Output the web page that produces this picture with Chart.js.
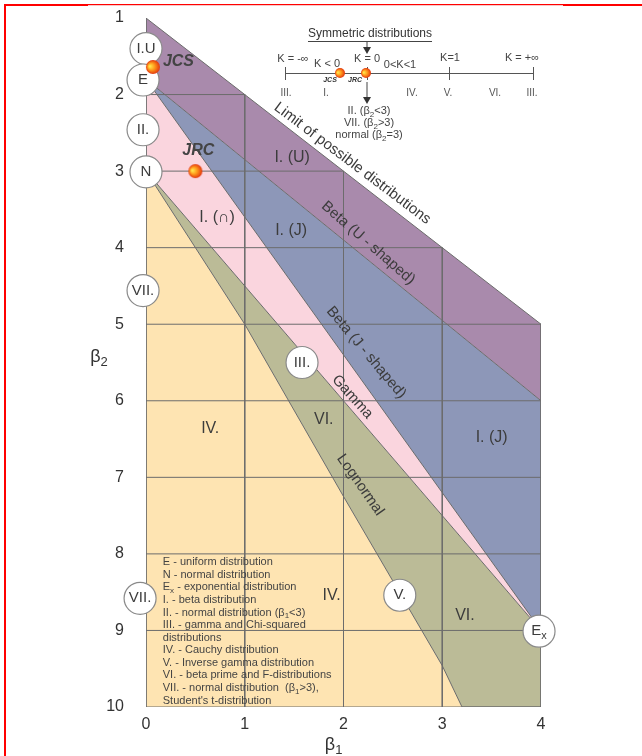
<!DOCTYPE html>
<html>
<head>
<meta charset="utf-8">
<script src="https://cdn.jsdelivr.net/npm/chart.js@4.4.1/dist/chart.umd.min.js"></script>
<style>
body{margin:0;background:#fff;}
#wrap{position:relative;width:642px;height:756px;overflow:hidden;}
#frame{position:absolute;left:4px;top:4px;right:-4px;bottom:-4px;border-left:2px solid #f00;border-top:2px solid #f00;pointer-events:none;}
#thin{position:absolute;left:88px;top:5px;width:475px;height:1px;background:#f8c8c8;}
</style>
</head>
<body>
<div id="wrap"><canvas id="pearson" width="642" height="756"></canvas><div id="frame"></div><div id="thin"></div></div>
<script>
Chart.defaults.font.family = '"Liberation Sans", Arial, sans-serif';
Chart.defaults.color = '#333';

var b1Ticks = [0, 1, 2, 3, 4];
var b2Ticks = [1, 2, 3, 4, 5, 6, 7, 8, 9, 10];

// region borders (beta1 -> beta2)
var limitB1 = [0, 4],  limitB2 = [1, 5];
var uBetaB1 = [0, 4],  uBetaB2 = [1.8, 6];
var jBetaB1 = [0, 4],  jBetaB2 = [1.8, 9];
var gammaB1 = [0, 4],  gammaB2 = [3, 9];
var type5B1 = [0, 0.5, 1, 2, 3, 3.2, 4];
var type5B2 = [3, 4, 5, 7.25, 9.46, 10, 10];
var floorB1 = [0, 4],  floorB2 = [10, 10];

// circled distribution types
var markNames = ['I.U', 'E', 'II.', 'N', 'VII.', 'VII.', 'III.', 'V.', 'E_x'];
var markB1 = [0, -0.03, -0.03, 0, -0.03, -0.06, 1.58, 2.57, 3.98];
var markB2 = [1.4, 1.81, 2.46, 3.01, 4.56, 8.58, 5.5, 8.54, 9.01];

// samples
var sampleNames = ['JCS', 'JRC'];
var sampleB1 = [0.07, 0.5];
var sampleB2 = [1.64, 3.0];

var legendLines = [
	'E - uniform distribution',
	'N - normal distribution',
	'E_x - exponential distribution',
	'I. - beta distribution',
	'II. - normal distribution (\u03b2_1<3)',
	'III. - gamma and Chi-squared',
	'distributions',
	'IV. - Cauchy distribution',
	'V. - Inverse gamma distribution',
	'VI. - beta prime and F-distributions',
	'VII. - normal distribution  (\u03b2_1>3),',
	"Student's t-distribution"
];

function pts(xs, ys){
	return xs.map(function(x, i){ return {x: x, y: ys[i]}; });
}

// where the limit line reaches a given beta1 / beta2
function limitAtB1(b1){
	return limitB2[0] + (b1 - limitB1[0]) * (limitB2[1] - limitB2[0]) / (limitB1[1] - limitB1[0]);
}
function limitAtB2(b2){
	return limitB1[0] + (b2 - limitB2[0]) * (limitB1[1] - limitB1[0]) / (limitB2[1] - limitB2[0]);
}

// grid only inside the possible region
var gridPts = [];
b2Ticks.forEach(function(t){
	if(t == b2Ticks[0] || t == b2Ticks[b2Ticks.length-1]) return;
	var end = Math.min(limitAtB2(t), b1Ticks[b1Ticks.length-1]);
	gridPts.push({x: 0, y: t}, {x: end, y: t}, {x: end, y: null});
});
b1Ticks.forEach(function(t){
	gridPts.push({x: t, y: limitAtB1(t)}, {x: t, y: 10}, {x: t, y: null});
});

function makeBall(r){
	var c = document.createElement('canvas');
	c.width = c.height = r*2 + 2;
	var g = c.getContext('2d');
	var grad = g.createRadialGradient(r*0.55+1, r*0.9+1, r*0.1, r+1, r+1, r);
	grad.addColorStop(0, '#ffe24a');
	grad.addColorStop(0.45, '#ff9a1c');
	grad.addColorStop(1, '#e2360e');
	g.fillStyle = grad;
	g.beginPath(); g.arc(r+1, r+1, r, 0, Math.PI*2); g.fill();
	return c;
}
var ball = makeBall(7), smallBall = makeBall(5);

var FONT = '"Liberation Sans", Arial, sans-serif';
function richText(ctx, s, x, y, size, align, style){
	style = style || '';
	var runs = [], i;
	for(i = 0; i < s.length; i++){
		if(s[i] == '_' && i+1 < s.length){ runs.push({t: s[i+1], sub: true}); i++; }
		else if(runs.length && !runs[runs.length-1].sub) runs[runs.length-1].t += s[i];
		else runs.push({t: s[i], sub: false});
	}
	var fontFor = function(r){ return style + ' ' + (r.sub ? Math.round(size*0.72) : size) + 'px ' + FONT; };
	var w = 0;
	runs.forEach(function(r){ ctx.font = fontFor(r); r.w = ctx.measureText(r.t).width; w += r.w; });
	var cx = align == 'center' ? x - w/2 : (align == 'right' ? x - w : x);
	ctx.textAlign = 'left';
	ctx.textBaseline = 'middle';
	runs.forEach(function(r){
		ctx.font = fontFor(r);
		ctx.fillText(r.t, cx, r.sub ? y + size*0.3 : y);
		cx += r.w;
	});
	return w;
}

var notes = [
	{t: 'I. (U)', x: 1.48, y: 2.82},
	{t: 'I. (\u2229)', x: 0.72, y: 3.61},
	{t: 'I. (J)', x: 1.47, y: 3.78},
	{t: 'I. (J)', x: 3.5, y: 6.48},
	{t: 'IV.', x: 0.65, y: 6.36},
	{t: 'VI.', x: 1.8, y: 6.25},
	{t: 'IV.', x: 1.88, y: 8.54},
	{t: 'VI.', x: 3.23, y: 8.8},
	{t: 'Limit of possible distributions', x: 2.09, y: 2.9, rot: 37},
	{t: 'Beta (U - shaped)', x: 2.25, y: 3.94, rot: 41},
	{t: 'Beta (J - shaped)', x: 2.23, y: 5.37, rot: 50},
	{t: 'Gamma', x: 2.09, y: 5.95, rot: 48},
	{t: 'Lognormal', x: 2.17, y: 7.1, rot: 55}
];
var sampleOffsets = [[10, -5, 'left'], [3, -21, 'center']];

var notesPlugin = {
	id: 'notes',
	afterDatasetsDraw: function(chart){
		var ctx = chart.ctx, xs = chart.scales.x, ys = chart.scales.y, i;
		ctx.save();
		ctx.fillStyle = '#3c3c3c';
		// circled labels
		for(i = 0; i < markNames.length; i++){
			richText(ctx, markNames[i], xs.getPixelForValue(markB1[i]), ys.getPixelForValue(markB2[i]), 15, 'center');
		}
		// sample names
		ctx.fillStyle = '#444';
		for(i = 0; i < sampleNames.length; i++){
			var o = sampleOffsets[i];
			richText(ctx, sampleNames[i], xs.getPixelForValue(sampleB1[i]) + o[0], ys.getPixelForValue(sampleB2[i]) + o[1], 16, o[2], 'italic bold');
		}
		// region names
		ctx.fillStyle = '#3c3c3c';
		notes.forEach(function(n){
			ctx.save();
			ctx.translate(xs.getPixelForValue(n.x), ys.getPixelForValue(n.y));
			if(n.rot) ctx.rotate(n.rot*Math.PI/180);
			richText(ctx, n.t, 0, 0, n.rot ? 15 : 16, 'center');
			ctx.restore();
		});
		// legend text
		ctx.fillStyle = '#444';
		var lx = xs.getPixelForValue(0.17), ly = ys.getPixelForValue(8.11);
		legendLines.forEach(function(l, k){ richText(ctx, l, lx, ly + k*12.57, 11, 'left'); });
		// axis titles
		ctx.fillStyle = '#333';
		richText(ctx, '\u03b2_2', chart.chartArea.left - 47, ys.getPixelForValue(5.43), 18, 'center');
		richText(ctx, '\u03b2_1', xs.getPixelForValue(1.9), chart.chartArea.bottom + 38, 18, 'center');

		// symmetric distributions inset
		var ox = chart.chartArea.left, oy = chart.chartArea.top;
		ctx.fillStyle = '#333';
		ctx.strokeStyle = '#444';
		ctx.lineWidth = 1;
		var w = richText(ctx, 'Symmetric distributions', ox + 224, oy + 16, 12, 'center');
		ctx.beginPath(); ctx.moveTo(ox + 224 - w/2, oy + 23.5); ctx.lineTo(ox + 224 + w/2, oy + 23.5); ctx.stroke();
		function arrow(x, y1, y2){
			ctx.beginPath(); ctx.moveTo(x, y1); ctx.lineTo(x, y2 - 6); ctx.stroke();
			ctx.beginPath(); ctx.moveTo(x - 4, y2 - 7); ctx.lineTo(x + 4, y2 - 7); ctx.lineTo(x, y2); ctx.closePath(); ctx.fill();
		}
		arrow(ox + 221, oy + 23, oy + 36);
		ctx.strokeStyle = '#555';
		ctx.beginPath(); ctx.moveTo(ox + 139, oy + 55.5); ctx.lineTo(ox + 387, oy + 55.5); ctx.stroke();
		[139, 221, 303, 387].forEach(function(tx){
			ctx.beginPath(); ctx.moveTo(ox + tx + 0.5, oy + 49); ctx.lineTo(ox + tx + 0.5, oy + 62); ctx.stroke();
		});
		ctx.fillStyle = '#444';
		[['K = -\u221e', 147, 41], ['K < 0', 181, 46], ['K = 0', 221, 41], ['0<K<1', 254, 47], ['K=1', 304, 40], ['K = +\u221e', 376, 40]].forEach(function(a){
			richText(ctx, a[0], ox + a[1], oy + a[2], 11, 'center');
		});
		ctx.fillStyle = '#555';
		[['III.', 140], ['I.', 180], ['IV.', 266], ['V.', 302], ['VI.', 349], ['III.', 386]].forEach(function(a){
			richText(ctx, a[0], ox + a[1], oy + 75, 10, 'center');
		});
		ctx.drawImage(smallBall, ox + 194 - 6, oy + 55 - 6);
		ctx.drawImage(smallBall, ox + 220 - 6, oy + 55 - 6);
		ctx.fillStyle = '#333';
		richText(ctx, 'JCS', ox + 184, oy + 62, 7, 'center', 'italic bold');
		richText(ctx, 'JRC', ox + 209, oy + 62, 7, 'center', 'italic bold');
		ctx.strokeStyle = '#444';
		arrow(ox + 221, oy + 64, oy + 86);
		ctx.fillStyle = '#444';
		richText(ctx, 'II. (\u03b2_2<3)', ox + 223, oy + 93, 11, 'center');
		richText(ctx, 'VII. (\u03b2_2>3)', ox + 223, oy + 105, 11, 'center');
		richText(ctx, 'normal (\u03b2_2=3)', ox + 223, oy + 117, 11, 'center');
		ctx.restore();
	}
};

var lineGrey = '#6c6c6c';
function border(label, data, fill, color){
	return {label: label, data: data, fill: fill, backgroundColor: color, borderColor: lineGrey,
		borderWidth: 1, pointRadius: 0, order: 3};
}

new Chart(document.getElementById('pearson').getContext('2d'), {
	type: 'line',
	data: {
		datasets: [
			border('limit', pts(limitB1, limitB2), 1, 'rgb(169,138,172)'),
			border('beta U', pts(uBetaB1, uBetaB2), 2, 'rgb(141,151,184)'),
			border('beta J', pts(jBetaB1, jBetaB2), 3, 'rgb(250,213,222)'),
			border('gamma', pts(gammaB1, gammaB2), 4, 'rgb(187,187,151)'),
			border('type V', pts(type5B1, type5B2), 5, 'rgb(254,228,178)'),
			border('floor', pts(floorB1, floorB2), false, 'transparent'),
			{label: 'grid', data: gridPts, fill: false, borderColor: lineGrey, borderWidth: 1,
				pointRadius: 0, spanGaps: false, order: 2},
			{label: 'types', data: pts(markB1, markB2), showLine: false, pointRadius: 16,
				pointBackgroundColor: '#fff', pointBorderColor: '#8a8a8a', pointBorderWidth: 1.2,
				clip: false, order: 1},
			{label: 'samples', data: pts(sampleB1, sampleB2), showLine: false, pointStyle: ball,
				pointRadius: 7, clip: false, order: 0}
		]
	},
	options: {
		responsive: false,
		animation: false,
		layout: {padding: {top: 18, right: 101, left: 0, bottom: 0}},
		plugins: {
			legend: {display: false},
			tooltip: {enabled: false},
			filler: {drawTime: 'beforeDatasetsDraw'}
		},
		scales: {
			x: {
				type: 'linear', min: 0, max: 4,
				afterBuildTicks: function(s){ s.ticks = b1Ticks.map(function(v){ return {value: v}; }); },
				ticks: {color: '#333', font: {size: 16}, padding: 8},
				grid: {display: false, drawTicks: false},
				border: {display: false},
				afterFit: function(s){ s.height = 49; }
			},
			y: {
				type: 'linear', min: 1, max: 10, reverse: true,
				afterBuildTicks: function(s){ s.ticks = b2Ticks.map(function(v){ return {value: v}; }); },
				ticks: {color: '#333', font: {size: 16}, padding: 22},
				grid: {display: false, drawTicks: false},
				border: {display: false},
				afterFit: function(s){ s.width = 146; s.paddingTop = 0; s.paddingBottom = 0; }
			}
		}
	},
	plugins: [notesPlugin]
});
</script>
</body>
</html>
